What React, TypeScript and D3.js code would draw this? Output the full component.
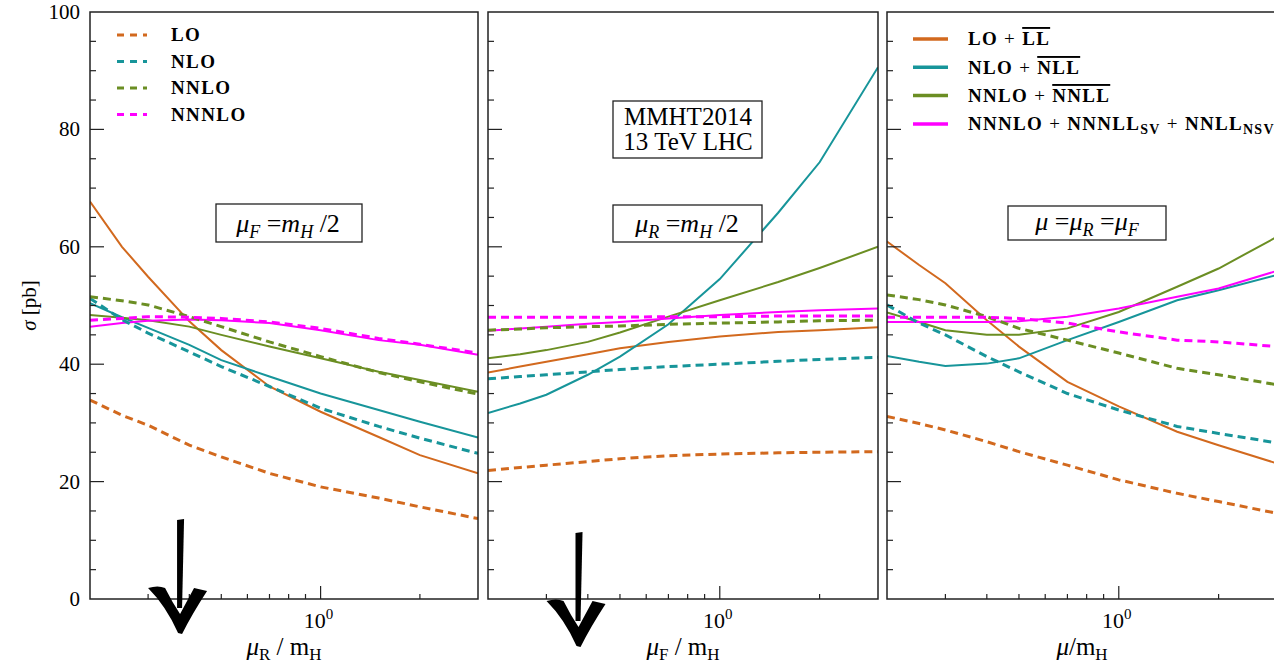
import { scaleLinear, scaleLog, line } from 'd3'

// scale factor mu / m_H where each cross section was evaluated
const muValues = [0.2, 0.25, 0.3, 0.4, 0.5, 0.7, 1, 1.5, 2, 3]

// panel 1: mu_R varied, mu_F = m_H/2
const loR = [33.9, 31.3, 29.6, 26.2, 24.2, 21.4, 19.1, 17.2, 15.7, 13.7]
const nloR = [51.2, 47.6, 45.3, 42.1, 39.6, 36.2, 32.5, 29.4, 27.4, 24.8]
const nnloR = [51.5, 50.8, 50.1, 48.1, 46.4, 43.8, 41.3, 38.6, 37.0, 34.9]
const n3loR = [47.5, 47.8, 48.1, 48.0, 47.8, 47.2, 46.1, 44.4, 43.4, 41.9]
const loLLR = [67.7, 60.0, 54.9, 47.3, 42.4, 36.2, 31.9, 27.6, 24.5, 21.4]
const nloNLLR = [50.4, 48.0, 46.2, 43.3, 40.7, 37.9, 35.0, 32.2, 30.2, 27.5]
const nnloNNLLR = [48.4, 47.9, 47.5, 46.4, 45.0, 43.0, 41.0, 38.7, 37.3, 35.3]
const n3loN3LLR = [46.4, 47.0, 47.4, 47.6, 47.5, 47.0, 45.8, 44.1, 43.3, 41.6]

// panel 2: mu_F varied, mu_R = m_H/2
const loF = [21.9, 22.4, 22.8, 23.4, 23.9, 24.4, 24.7, 24.9, 25.0, 25.1]
const nloF = [37.5, 37.9, 38.2, 38.7, 39.1, 39.6, 40.0, 40.5, 40.8, 41.2]
const nnloF = [45.8, 46.0, 46.2, 46.4, 46.5, 46.8, 47.0, 47.2, 47.4, 47.5]
const n3loF = [48.0, 48.0, 48.0, 48.0, 48.0, 48.1, 48.1, 48.2, 48.2, 48.2]
const loLLF = [38.6, 39.6, 40.4, 41.7, 42.7, 43.8, 44.7, 45.5, 45.8, 46.3]
const nloNLLF = [31.7, 33.3, 34.8, 38.2, 41.3, 46.8, 54.5, 65.8, 74.4, 90.6]
const nnloNNLLF = [41.0, 41.7, 42.4, 43.8, 45.4, 48.1, 50.9, 54.0, 56.4, 60.0]
const n3loN3LLF = [45.7, 46.1, 46.4, 46.9, 47.2, 47.8, 48.4, 48.9, 49.2, 49.5]

// panel 3: mu = mu_R = mu_F
const loMu = [31.1, 29.9, 28.8, 26.8, 25.1, 22.8, 20.3, 18.0, 16.6, 14.6]
const nloMu = [50.1, 47.0, 45.0, 41.3, 38.7, 35.0, 32.2, 29.4, 28.2, 26.6]
const nnloMu = [51.8, 51.0, 50.1, 48.1, 46.1, 44.1, 41.9, 39.3, 38.2, 36.5]
const n3loMu = [48.0, 48.0, 48.0, 48.0, 47.8, 47.0, 45.5, 44.1, 43.8, 43.0]
const loLLMu = [60.9, 56.9, 53.8, 47.5, 43.0, 37.0, 32.8, 28.5, 26.2, 23.1]
const nloNLLMu = [41.4, 40.4, 39.7, 40.1, 41.0, 44.1, 47.2, 50.9, 52.6, 55.2]
const nnloNNLLMu = [48.8, 47.2, 45.8, 45.0, 45.0, 46.1, 48.9, 53.2, 56.3, 61.7]
const n3loN3LLMu = [47.2, 47.2, 47.2, 47.2, 47.3, 48.1, 49.5, 51.5, 52.9, 55.9]

const fixedOrderLabels = ['LO', 'NLO', 'NNLO', 'NNNLO']
const yTicks = [0, 20, 40, 60, 80, 100]

const colors = ['#d2691e', '#17959a', '#6b8e23', '#ff00ff']

const width = 1274
const height = 668
const top = 12
const bottom = 599
const font = '"Liberation Serif", "DejaVu Serif", serif'

const yScale = scaleLinear().domain([0, 100]).range([bottom, top])

const panels = [
  {
    x0: 90,
    x1: 478,
    fixed: [loR, nloR, nnloR, n3loR],
    resummed: [loLLR, nloNLLR, nnloNNLLR, n3loN3LLR],
    sub: 'R',
  },
  {
    x0: 488,
    x1: 878,
    fixed: [loF, nloF, nnloF, n3loF],
    resummed: [loLLF, nloNLLF, nnloNNLLF, n3loN3LLF],
    sub: 'F',
  },
  {
    x0: 887,
    x1: 1277,
    fixed: [loMu, nloMu, nnloMu, n3loMu],
    resummed: [loLLMu, nloNLLMu, nnloNNLLMu, n3loN3LLMu],
    sub: '',
  },
]

function Arrow({ x, y }) {
  // hand drawn arrow pointing at the axis, (x, y) is the tip
  const shaft = `M${x - 3},${y - 114} L${x + 4},${y - 115} L${x + 2},${y - 26} L${x - 3},${y - 26} Z`
  const head =
    `M${x - 32},${y - 46} Q${x - 22},${y - 49} ${x - 15},${y - 46} ` +
    `Q${x - 8},${y - 32} ${x},${y - 20} L${x + 14},${y - 46} L${x + 27},${y - 43} ` +
    `Q${x + 12},${y - 20} ${x + 2},${y} L${x - 2},${y - 1} Q${x - 14},${y - 28} ${x - 32},${y - 46} Z`
  return (
    <g fill="#000">
      <path d={shaft} />
      <path d={head} />
    </g>
  )
}

function Box({ x, y, w, h, children }) {
  return (
    <g>
      <rect x={x} y={y} width={w} height={h} fill="#fff" stroke="#222" strokeWidth={1.3} />
      {children}
    </g>
  )
}

function ScaleLabel({ x, y, a, b }) {
  // mu_a = m_H /2 style labels
  return (
    <text x={x} y={y} textAnchor="middle">
      <tspan fontStyle="italic">μ</tspan>
      <tspan fontStyle="italic" fontSize={18} dy={6}>
        {a}
      </tspan>
      <tspan dy={-6}> =</tspan>
      <tspan fontStyle="italic">m</tspan>
      <tspan fontStyle="italic" fontSize={18} dy={6}>
        {b}
      </tspan>
      <tspan dy={-6}> /2</tspan>
    </text>
  )
}

function Panel({ p, index }) {
  const xScale = scaleLog().domain([0.2, 3]).range([p.x0, p.x1])
  const path = line<number>()
    .x((_, i) => xScale(muValues[i]))
    .y((d) => yScale(d))

  const xTicks = xScale.ticks().filter((t) => t > 0.2 && t < 3)
  const yMinor = []
  for (let v = 5; v < 100; v += 5) yMinor.push(v)

  return (
    <g>
      <defs>
        <clipPath id={`clip${index}`}>
          <rect x={p.x0} y={top} width={p.x1 - p.x0} height={bottom - top} />
        </clipPath>
      </defs>
      <g clipPath={`url(#clip${index})`} fill="none">
        {p.resummed.map((s, i) => (
          <path key={'r' + i} d={path(s)} stroke={colors[i]} strokeWidth={2} />
        ))}
        {p.fixed.map((s, i) => (
          <path
            key={'f' + i}
            d={path(s)}
            stroke={colors[i]}
            strokeWidth={3}
            strokeDasharray="8,5"
          />
        ))}
      </g>
      <rect
        x={p.x0}
        y={top}
        width={p.x1 - p.x0}
        height={bottom - top}
        fill="none"
        stroke="#222"
        strokeWidth={1.5}
      />
      {yMinor.map((v) => (
        <line
          key={v}
          x1={p.x0}
          x2={p.x0 + (v % 20 === 0 ? 14 : 6)}
          y1={yScale(v)}
          y2={yScale(v)}
          stroke="#222"
          strokeWidth={1.2}
        />
      ))}
      {xTicks.map((t) => (
        <line
          key={t}
          x1={xScale(t)}
          x2={xScale(t)}
          y1={bottom}
          y2={bottom - (t === 1 ? 13 : 5)}
          stroke="#222"
          strokeWidth={1.2}
        />
      ))}
      <text x={xScale(1) - 2} y={628} textAnchor="middle" fontSize={22} fontFamily={font}>
        10
        <tspan fontSize={15} dy={-9}>
          0
        </tspan>
      </text>
      <text
        x={(p.x0 + p.x1) / 2}
        y={655}
        textAnchor="middle"
        fontSize={25}
        fontFamily={font}
      >
        <tspan fontStyle="italic">μ</tspan>
        {p.sub && (
          <tspan fontSize={17} dy={5}>
            {p.sub}
          </tspan>
        )}
        <tspan dy={p.sub ? -5 : 0}>{p.sub ? ' / m' : '/m'}</tspan>
        <tspan fontSize={17} dy={5}>
          H
        </tspan>
      </text>
    </g>
  )
}

export default function App() {
  const x1 = scaleLog().domain([0.2, 3]).range([panels[0].x0, panels[0].x1])
  const x2 = scaleLog().domain([0.2, 3]).range([panels[1].x0, panels[1].x1])

  return (
    <svg
      width={width}
      height={height}
      style={{ position: 'absolute', left: 0, top: 0, background: '#fff' }}
    >
      {panels.map((p, i) => (
        <Panel key={i} p={p} index={i} />
      ))}

      {yTicks.map((t) => (
        <text
          key={t}
          x={80}
          y={yScale(t) + 7}
          textAnchor="end"
          fontSize={21}
          fontFamily={font}
        >
          {t}
        </text>
      ))}
      <text
        transform={`translate(36,${(top + bottom) / 2}) rotate(-90)`}
        textAnchor="middle"
        fontSize={21}
        fontFamily={font}
      >
        <tspan fontStyle="italic">σ</tspan> [pb]
      </text>

      {/* fixed order legend */}
      {fixedOrderLabels.map((l, i) => (
        <g key={l}>
          <line
            x1={117}
            x2={147}
            y1={35 + i * 26.5}
            y2={35 + i * 26.5}
            stroke={colors[i]}
            strokeWidth={3}
            strokeDasharray="7,6"
          />
          <text
            x={171}
            y={41 + i * 26.5}
            fontSize={19}
            fontWeight="bold"
            letterSpacing={1.4}
            fontFamily={font}
          >
            {l}
          </text>
        </g>
      ))}

      {/* resummed legend */}
      {[0, 1, 2, 3].map((i) => (
        <line
          key={i}
          x1={913}
          x2={948}
          y1={39 + i * 28.3}
          y2={39 + i * 28.3}
          stroke={colors[i]}
          strokeWidth={3.5}
        />
      ))}
      <g fontSize={19} fontWeight="bold" fontFamily={font} letterSpacing={1.3}>
        <text x={968} y={45}>
          LO<tspan fontWeight="normal"> + </tspan>
          <tspan textDecoration="overline">LL</tspan>
        </text>
        <text x={968} y={74}>
          NLO<tspan fontWeight="normal"> + </tspan>
          <tspan textDecoration="overline">NLL</tspan>
        </text>
        <text x={968} y={102}>
          NNLO<tspan fontWeight="normal"> + </tspan>
          <tspan textDecoration="overline">NNLL</tspan>
        </text>
        <text x={968} y={130}>
          NNNLO<tspan fontWeight="normal"> + </tspan>NNNLL
          <tspan fontSize={14} dy={4}>
            SV
          </tspan>
          <tspan dy={-4} fontWeight="normal">
            {' + '}
          </tspan>
          NNLL
          <tspan fontSize={14} dy={4}>
            NSV
          </tspan>
        </text>
      </g>

      {/* scale choice boxes */}
      <g fontSize={26} fontFamily={font}>
        <Box x={216} y={204} w={146} h={38}>
          <ScaleLabel x={288} y={232} a="F" b="H" />
        </Box>
        <Box x={613} y={101} w={149} h={57}>
          <text x={688} y={125} textAnchor="middle" fontSize={25}>
            MMHT2014
          </text>
          <text x={688} y={150} textAnchor="middle" fontSize={25}>
            13 TeV LHC
          </text>
        </Box>
        <Box x={613} y={205} w={149} h={37}>
          <ScaleLabel x={687} y={232} a="R" b="H" />
        </Box>
        <Box x={1008} y={206} w={158} h={34}>
          <text x={1087} y={230} textAnchor="middle">
            <tspan fontStyle="italic">μ</tspan>
            <tspan> =</tspan>
            <tspan fontStyle="italic">μ</tspan>
            <tspan fontStyle="italic" fontSize={18} dy={6}>
              R
            </tspan>
            <tspan dy={-6}> =</tspan>
            <tspan fontStyle="italic">μ</tspan>
            <tspan fontStyle="italic" fontSize={18} dy={6}>
              F
            </tspan>
          </text>
        </Box>
      </g>

      <Arrow x={x1(0.375)} y={bottom + 35} />
      <Arrow x={x2(0.375)} y={bottom + 48} />
    </svg>
  )
}
